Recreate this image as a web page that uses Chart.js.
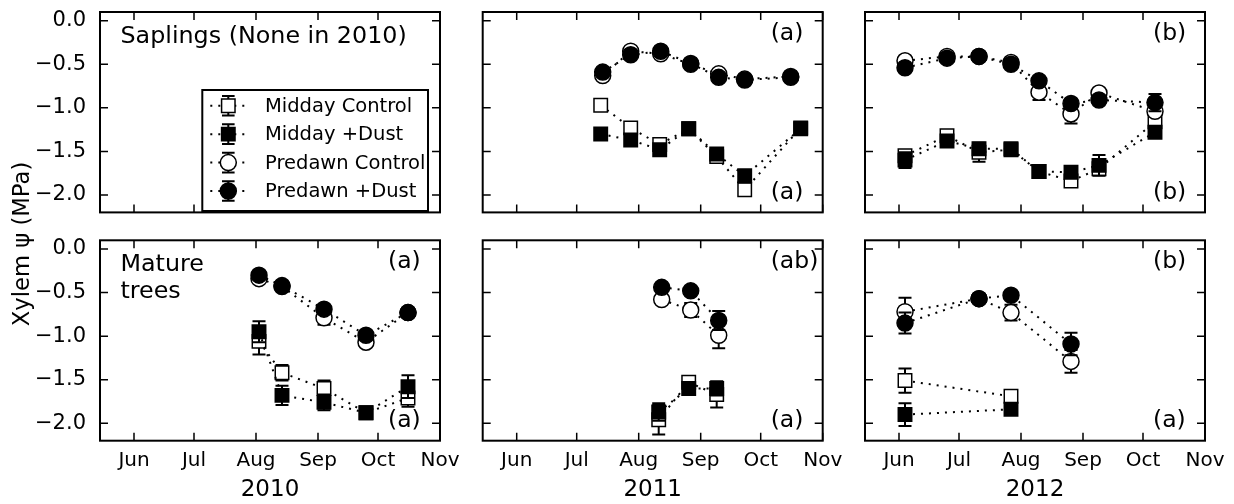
<!DOCTYPE html>
<html>
<head>
<meta charset="utf-8">
<script src="https://cdn.jsdelivr.net/npm/chart.js@4.4.1/dist/chart.umd.min.js"></script>
<style>
  html, body { margin: 0; padding: 0; background: #fff; }
  #wrap { position: relative; width: 1234px; height: 504px; overflow: hidden; }
  #wrap canvas { position: absolute; left: 0; top: 0; }
</style>
</head>
<body>
<div id="wrap"></div>
<script>
// x axis is day of year, May 15 .. Nov 1
var monthTicks = [152, 182, 213, 244, 274, 305];
var monthLabels = ["Jun", "Jul", "Aug", "Sep", "Oct", "Nov"];
var yTicks = [0, -0.5, -1, -1.5, -2];
var seriesLabels = ["Midday Control", "Midday +Dust", "Predawn Control", "Predawn +Dust"];
var yearLabels = ["2010", "2011", "2012"];

// saplings 2011
var sap11MiddayDays = [194, 209, 223.5, 238, 252, 266, 294];
var sap11PredawnDays = [195, 209, 224, 239, 253, 266, 289];
var sap11MidCtl = [-0.97, -1.23, -1.42, -1.24, -1.56, -1.94, -1.23];
var sap11MidCtlSe = [0.04, 0.05, 0.04, 0.04, 0.05, 0.05, 0.04];
var sap11MidDust = [-1.30, -1.37, -1.48, -1.24, -1.53, -1.78, -1.24];
var sap11MidDustSe = [0.04, 0.05, 0.05, 0.05, 0.04, 0.05, 0.04];
var sap11PreCtl = [-0.63, -0.35, -0.38, -0.50, -0.61, -0.67, -0.64];
var sap11PreCtlSe = [0.03, 0.03, 0.03, 0.03, 0.03, 0.03, 0.03];
var sap11PreDust = [-0.59, -0.39, -0.35, -0.49, -0.65, -0.68, -0.65];
var sap11PreDustSe = [0.03, 0.03, 0.03, 0.03, 0.03, 0.03, 0.03];

// saplings 2012
var sap12Days = [155, 176, 192, 208, 222, 238, 252, 280];
var sap12MidCtl = [-1.55, -1.32, -1.51, -1.48, -1.73, -1.84, -1.70, -1.16];
var sap12MidCtlSe = [0.05, 0.04, 0.11, 0.04, 0.04, 0.04, 0.05, 0.05];
var sap12MidDust = [-1.60, -1.38, -1.47, -1.47, -1.73, -1.74, -1.66, -1.28];
var sap12MidDustSe = [0.09, 0.04, 0.05, 0.04, 0.04, 0.04, 0.12, 0.05];
var sap12PreCtl = [-0.46, -0.41, -0.41, -0.48, -0.82, -1.07, -0.83, -1.04];
var sap12PreCtlSe = [0.03, 0.03, 0.03, 0.03, 0.09, 0.11, 0.04, 0.05];
var sap12PreDust = [-0.54, -0.43, -0.41, -0.50, -0.69, -0.95, -0.91, -0.94];
var sap12PreDustSe = [0.03, 0.03, 0.03, 0.03, 0.04, 0.05, 0.05, 0.10];

// mature trees 2010
var mat10Days = [214.5, 226, 247, 268, 289];
var mat10MidCtl = [-1.06, -1.42, -1.60, -1.88, -1.71];
var mat10MidCtlSe = [0.15, 0.09, 0.09, 0.04, 0.10];
var mat10MidDust = [-0.95, -1.68, -1.76, -1.88, -1.58];
var mat10MidDustSe = [0.12, 0.11, 0.09, 0.04, 0.13];
var mat10PreCtl = [-0.34, -0.43, -0.79, -1.07, -0.73];
var mat10PreCtlSe = [0.03, 0.03, 0.08, 0.05, 0.03];
var mat10PreDust = [-0.30, -0.42, -0.69, -0.99, -0.73];
var mat10PreDustSe = [0.03, 0.03, 0.04, 0.05, 0.03];

// mature trees 2011
var mat11MiddayDays = [223, 238, 252];
var mat11PredawnDays = [224.5, 239, 253];
var mat11MidCtl = [-1.96, -1.53, -1.67];
var mat11MidCtlSe = [0.17, 0.05, 0.15];
var mat11MidDust = [-1.87, -1.60, -1.60];
var mat11MidDustSe = [0.10, 0.06, 0.08];
var mat11PreCtl = [-0.58, -0.70, -0.99];
var mat11PreCtlSe = [0.03, 0.08, 0.15];
var mat11PreDust = [-0.44, -0.48, -0.82];
var mat11PreDustSe = [0.03, 0.04, 0.11];

// mature trees 2012
var mat12MiddayDays = [155, 208];
var mat12PredawnDays = [155, 192, 208, 238];
var mat12MidCtl = [-1.51, -1.69];
var mat12MidCtlSe = [0.14, 0.04];
var mat12MidDust = [-1.90, -1.84];
var mat12MidDustSe = [0.13, 0.04];
var mat12PreCtl = [-0.72, -0.57, -0.73, -1.29];
var mat12PreCtlSe = [0.16, 0.03, 0.09, 0.13];
var mat12PreDust = [-0.85, -0.57, -0.53, -1.09];
var mat12PreDustSe = [0.12, 0.04, 0.04, 0.13];

(() => {
    var font = "'DejaVu Sans', sans-serif";
    Chart.defaults.font.family = font;
    Chart.defaults.color = "#000";

    var W = 1234, H = 504,
        colLeft = [100, 482.7, 865],
        rowTop = [12, 240.3],
        boxW = 340,
        boxH = 200.4,
        sqRadius = 9.5,
        dotRadius = 8,
        wrap = document.getElementById("wrap");

    var styles = [
        { shape: "rect", fill: "#fff", order: 4 },
        { shape: "rect", fill: "#000", order: 3 },
        { shape: "circle", fill: "#fff", order: 2 },
        { shape: "circle", fill: "#000", order: 1 }
    ];

    function makeSet(k, days, vals, se) {
        var s = styles[k];
        return {
            label: seriesLabels[k],
            data: days.map(function (d, i) { return { x: d, y: vals[i] }; }),
            se: se,
            showLine: true,
            fill: false,
            tension: 0,
            borderColor: "#000",
            borderWidth: 2,
            borderDash: [2, 6],
            pointStyle: s.shape,
            pointRadius: s.shape === "rect" ? sqRadius : dotRadius,
            pointBackgroundColor: s.fill,
            pointBorderColor: "#000",
            pointBorderWidth: 1.5,
            order: s.order
        };
    }

    //draw the error bars under each series' markers
    var errorBars = {
        id: "errorBars",
        beforeDatasetDraw: function (chart, args) {
            var ds = chart.data.datasets[args.index];
            if (!ds.se) return;
            var ctx = chart.ctx, ys = chart.scales.y;
            ctx.save();
            ctx.strokeStyle = "#000";
            ctx.lineWidth = 2;
            ctx.setLineDash([]);
            args.meta.data.forEach(function (pt, i) {
                var v = ds.data[i].y, e = ds.se[i];
                var y1 = ys.getPixelForValue(v + e), y2 = ys.getPixelForValue(v - e);
                ctx.beginPath();
                ctx.moveTo(pt.x, y1); ctx.lineTo(pt.x, y2);
                ctx.moveTo(pt.x - 6.5, y1); ctx.lineTo(pt.x + 6.5, y1);
                ctx.moveTo(pt.x - 6.5, y2); ctx.lineTo(pt.x + 6.5, y2);
                ctx.stroke();
            });
            ctx.restore();
        }
    };

    function drawMarker(ctx, k, x, y) {
        var s = styles[k];
        ctx.fillStyle = s.fill;
        ctx.strokeStyle = "#000";
        ctx.lineWidth = 1.5;
        ctx.beginPath();
        if (s.shape === "rect") {
            var h = sqRadius * Math.SQRT1_2;
            ctx.rect(x - h, y - h, 2 * h, 2 * h);
        } else {
            ctx.arc(x, y, dotRadius, 0, Math.PI * 2);
        }
        ctx.fill();
        ctx.stroke();
    }

    //frame, inward ticks, panel notes and legend
    function makeFrame(p) {
        return {
            id: "frame",
            afterDraw: function (chart) {
                var ctx = chart.ctx, a = chart.chartArea,
                    xs = chart.scales.x, ys = chart.scales.y;
                ctx.save();
                ctx.strokeStyle = "#000";
                ctx.lineWidth = 1.5;
                ctx.beginPath();
                monthTicks.forEach(function (v) {
                    var x = xs.getPixelForValue(v);
                    ctx.moveTo(x, a.bottom); ctx.lineTo(x, a.bottom - 8);
                    ctx.moveTo(x, a.top); ctx.lineTo(x, a.top + 8);
                });
                yTicks.forEach(function (v) {
                    var y = ys.getPixelForValue(v);
                    ctx.moveTo(a.left, y); ctx.lineTo(a.left + 8, y);
                    ctx.moveTo(a.right, y); ctx.lineTo(a.right - 8, y);
                });
                ctx.stroke();
                ctx.lineWidth = 2;
                ctx.strokeRect(a.left, a.top, a.right - a.left, a.bottom - a.top);

                ctx.fillStyle = "#000";
                ctx.textBaseline = "alphabetic";
                ctx.textAlign = "left";
                ctx.font = "23.5px " + font;
                if (p.topNote) ctx.fillText(p.topNote, a.left + 288, a.top + 27.5);
                if (p.bottomNote) ctx.fillText(p.bottomNote, a.left + 288, a.bottom - 13.7);
                ctx.font = "23.8px " + font;
                (p.title || []).forEach(function (line, i) {
                    ctx.fillText(line, a.left + 20.5, a.top + 30.5 + i * 26.7);
                });

                if (p.yTitle) {
                    ctx.save();
                    ctx.translate(23, 244);
                    ctx.rotate(-Math.PI / 2);
                    ctx.textAlign = "center";
                    ctx.textBaseline = "middle";
                    ctx.font = "22.7px " + font;
                    ctx.fillText("Xylem \u03c8 (MPa)", 0, 0);
                    ctx.restore();
                }

                if (p.legend) {
                    var lx = a.left + 102.3, ly = a.top + 78,
                        lw = a.right - 12 - lx, lh = a.bottom - 1.4 - ly;
                    ctx.fillStyle = "#fff";
                    ctx.fillRect(lx, ly, lw, lh);
                    ctx.lineWidth = 2;
                    ctx.strokeStyle = "#000";
                    ctx.strokeRect(lx, ly, lw, lh);
                    seriesLabels.forEach(function (label, k) {
                        var ry = a.top + 93.7 + k * 28.45, mx = a.left + 128.3;
                        ctx.strokeStyle = "#000";
                        ctx.lineWidth = 2;
                        ctx.setLineDash([2, 6]);
                        ctx.beginPath();
                        ctx.moveTo(mx - 18, ry); ctx.lineTo(mx + 20, ry);
                        ctx.stroke();
                        ctx.setLineDash([]);
                        ctx.beginPath();
                        ctx.moveTo(mx, ry - 9.8); ctx.lineTo(mx, ry + 9.8);
                        ctx.moveTo(mx - 6.3, ry - 9.8); ctx.lineTo(mx + 6.3, ry - 9.8);
                        ctx.moveTo(mx - 6.3, ry + 9.8); ctx.lineTo(mx + 6.3, ry + 9.8);
                        ctx.stroke();
                        drawMarker(ctx, k, mx, ry);
                        ctx.fillStyle = "#000";
                        ctx.font = "19.5px " + font;
                        ctx.textAlign = "left";
                        ctx.textBaseline = "middle";
                        ctx.fillText(label, a.left + 165, ry + 1);
                    });
                }
                ctx.restore();
            }
        };
    }

    var panels = [
        { row: 0, col: 0, sets: [], title: ["Saplings (None in 2010)"], legend: true },
        { row: 0, col: 1, topNote: "(a)", bottomNote: "(a)", sets: [
            makeSet(0, sap11MiddayDays, sap11MidCtl, sap11MidCtlSe),
            makeSet(1, sap11MiddayDays, sap11MidDust, sap11MidDustSe),
            makeSet(2, sap11PredawnDays, sap11PreCtl, sap11PreCtlSe),
            makeSet(3, sap11PredawnDays, sap11PreDust, sap11PreDustSe)] },
        { row: 0, col: 2, topNote: "(b)", bottomNote: "(b)", sets: [
            makeSet(0, sap12Days, sap12MidCtl, sap12MidCtlSe),
            makeSet(1, sap12Days, sap12MidDust, sap12MidDustSe),
            makeSet(2, sap12Days, sap12PreCtl, sap12PreCtlSe),
            makeSet(3, sap12Days, sap12PreDust, sap12PreDustSe)] },
        { row: 1, col: 0, topNote: "(a)", bottomNote: "(a)", title: ["Mature", "trees"], yTitle: true, sets: [
            makeSet(0, mat10Days, mat10MidCtl, mat10MidCtlSe),
            makeSet(1, mat10Days, mat10MidDust, mat10MidDustSe),
            makeSet(2, mat10Days, mat10PreCtl, mat10PreCtlSe),
            makeSet(3, mat10Days, mat10PreDust, mat10PreDustSe)] },
        { row: 1, col: 1, topNote: "(ab)", bottomNote: "(a)", sets: [
            makeSet(0, mat11MiddayDays, mat11MidCtl, mat11MidCtlSe),
            makeSet(1, mat11MiddayDays, mat11MidDust, mat11MidDustSe),
            makeSet(2, mat11PredawnDays, mat11PreCtl, mat11PreCtlSe),
            makeSet(3, mat11PredawnDays, mat11PreDust, mat11PreDustSe)] },
        { row: 1, col: 2, topNote: "(b)", bottomNote: "(a)", sets: [
            makeSet(0, mat12MiddayDays, mat12MidCtl, mat12MidCtlSe),
            makeSet(1, mat12MiddayDays, mat12MidDust, mat12MidDustSe),
            makeSet(2, mat12PredawnDays, mat12PreCtl, mat12PreCtlSe),
            makeSet(3, mat12PredawnDays, mat12PreDust, mat12PreDustSe)] }
    ];

    panels.forEach(function (p) {
        var cv = document.createElement("canvas");
        cv.width = W;
        cv.height = H;
        wrap.appendChild(cv);

        var left = colLeft[p.col], top = rowTop[p.row],
            bottomRow = p.row === 1,
            xAxisH = bottomRow ? H - (top + boxH) : 0;

        new Chart(cv, {
            type: "line",
            data: { datasets: p.sets },
            options: {
                responsive: false,
                animation: false,
                devicePixelRatio: 1,
                events: [],
                layout: {
                    padding: {
                        left: 0,
                        right: W - left - boxW,
                        top: top,
                        bottom: H - top - boxH - xAxisH
                    }
                },
                plugins: { legend: { display: false }, tooltip: { enabled: false } },
                scales: {
                    x: {
                        type: "linear",
                        min: 135,
                        max: 305,
                        grid: { display: false },
                        border: { display: false },
                        afterBuildTicks: function (s) { s.ticks = monthTicks.map(function (v) { return { value: v }; }); },
                        afterFit: function (s) {
                            s.height = xAxisH;
                            s.paddingLeft = 0;
                            s.paddingRight = 0;
                        },
                        ticks: {
                            display: bottomRow,
                            autoSkip: false,
                            maxRotation: 0,
                            padding: 0,
                            color: "#000",
                            font: { size: 20 },
                            callback: function (v, i) { return monthLabels[i]; }
                        },
                        title: {
                            display: bottomRow,
                            text: yearLabels[p.col],
                            color: "#000",
                            font: { size: 23 },
                            padding: { top: 0, bottom: 0 }
                        }
                    },
                    y: {
                        min: -2.2,
                        max: 0.1,
                        grid: { display: false },
                        border: { display: false },
                        afterBuildTicks: function (s) { s.ticks = yTicks.map(function (v) { return { value: v }; }); },
                        afterFit: function (s) {
                            s.width = left;
                            s.paddingTop = 0;
                            s.paddingBottom = 0;
                        },
                        ticks: {
                            display: p.col === 0,
                            autoSkip: false,
                            padding: 6,
                            color: "#000",
                            font: { size: 21 },
                            callback: function (v) { return (v < 0 ? "\u2212" : "") + Math.abs(v).toFixed(1); }
                        }
                    }
                }
            },
            plugins: [errorBars, makeFrame(p)]
        });
    });
})();
</script>
</body>
</html>
